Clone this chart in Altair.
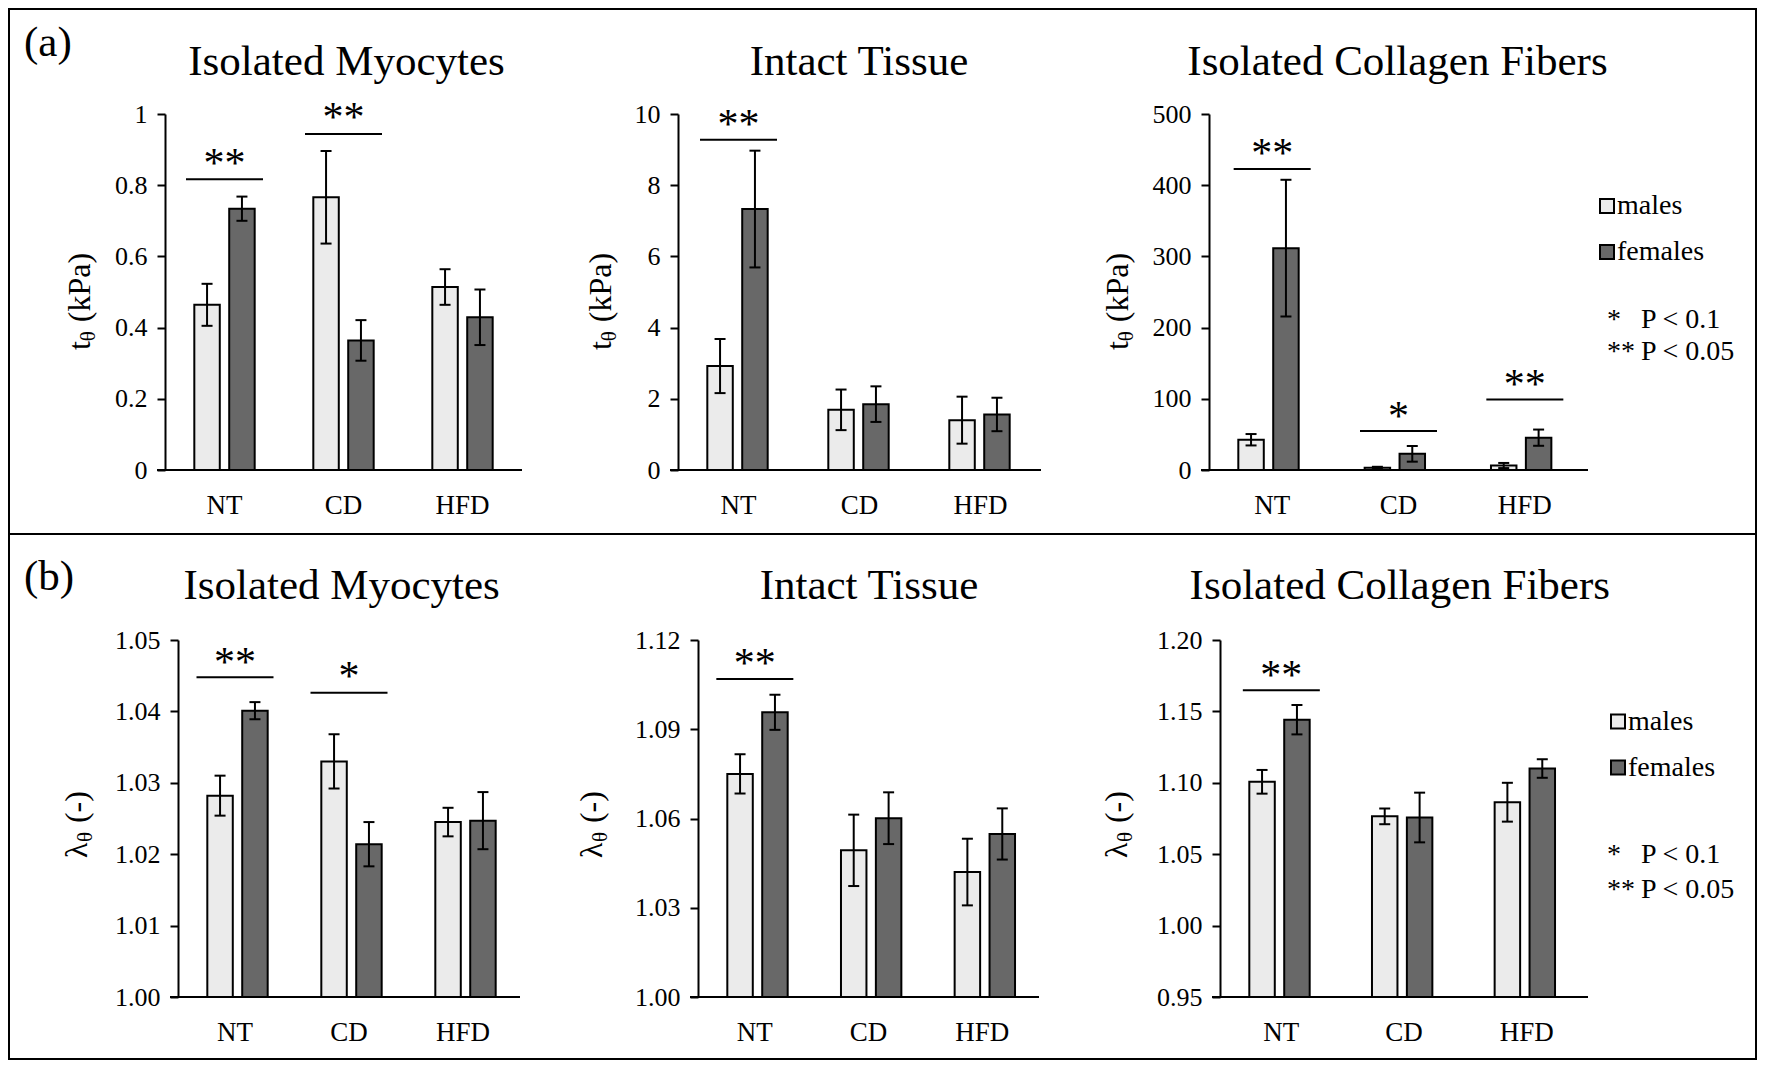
import altair as alt
import pandas as pd

FONT = "Liberation Serif"
MALE_FILL = "#ebebeb"
FEMALE_FILL = "#686868"

# ---------------- data ----------------
categories = ["NT", "CD", "HFD"]
sexes = ["males", "females"]

# (a) t_theta (kPa)
myo_t_males = [0.464, 0.766, 0.514]
myo_t_males_err = [0.059, 0.130, 0.050]
myo_t_females = [0.734, 0.364, 0.429]
myo_t_females_err = [0.034, 0.057, 0.078]

tis_t_males = [2.92, 1.69, 1.40]
tis_t_males_err = [0.76, 0.57, 0.66]
tis_t_females = [7.33, 1.85, 1.56]
tis_t_females_err = [1.64, 0.50, 0.47]

col_t_males = [42.5, 3.0, 6.3]
col_t_males_err = [8.0, 1.5, 3.6]
col_t_females = [311.6, 22.7, 45.4]
col_t_females_err = [96.0, 11.0, 11.4]

# (b) lambda_theta (-)
myo_l_males = [1.0282, 1.0330, 1.0245]
myo_l_males_err = [0.0028, 0.0038, 0.0020]
myo_l_females = [1.0401, 1.0214, 1.0247]
myo_l_females_err = [0.0012, 0.0031, 0.0040]

tis_l_males = [1.0750, 1.0493, 1.0420]
tis_l_males_err = [0.0066, 0.0120, 0.0112]
tis_l_females = [1.0957, 1.0601, 1.0548]
tis_l_females_err = [0.0059, 0.0087, 0.0086]

col_l_males = [1.1007, 1.0765, 1.0864]
col_l_males_err = [0.0083, 0.0055, 0.0136]
col_l_females = [1.1442, 1.0757, 1.1100]
col_l_females_err = [0.0103, 0.0174, 0.0065]

# significance markers: category, bar level, star level, text
myo_t_sig_cat = ["NT", "CD"]
myo_t_sig_line = [0.817, 0.944]
myo_t_sig_star = [0.879, 1.008]
myo_t_sig_txt = ["**", "**"]

tis_t_sig_cat = ["NT"]
tis_t_sig_line = [9.28]
tis_t_sig_star = [9.90]
tis_t_sig_txt = ["**"]

col_t_sig_cat = ["NT", "CD", "HFD"]
col_t_sig_line = [422.7, 54.6, 99.0]
col_t_sig_star = [454.0, 84.5, 129.5]
col_t_sig_txt = ["**", "*", "**"]

myo_l_sig_cat = ["NT", "CD"]
myo_l_sig_line = [1.0448, 1.0426]
myo_l_sig_star = [1.0478, 1.0458]
myo_l_sig_txt = ["**", "*"]

tis_l_sig_cat = ["NT"]
tis_l_sig_line = [1.1069]
tis_l_sig_star = [1.1142]
tis_l_sig_txt = ["**"]

col_l_sig_cat = ["NT"]
col_l_sig_line = [1.1648]
col_l_sig_star = [1.1794]
col_l_sig_txt = ["**"]

# axis ticks
myo_t_ticks = [0, 0.2, 0.4, 0.6, 0.8, 1.0]
tis_t_ticks = [0, 2, 4, 6, 8, 10]
col_t_ticks = [0, 100, 200, 300, 400, 500]
myo_l_ticks = [1.00, 1.01, 1.02, 1.03, 1.04, 1.05]
tis_l_ticks = [1.00, 1.03, 1.06, 1.09, 1.12]
col_l_ticks = [0.95, 1.00, 1.05, 1.10, 1.15, 1.20]

titles = ["Isolated Myocytes", "Intact Tissue", "Isolated Collagen Fibers"]

ONE = pd.DataFrame({"k": [0]})


def txt(s, x, y, size, align="left", baseline="middle"):
    return alt.Chart(ONE).mark_text(
        text=s, font=FONT, fontSize=size, color="black", align=align, baseline=baseline
    ).encode(x=alt.value(x), y=alt.value(y))


def rect(x, x2, y, y2, fill, stroke=None, sw=0):
    props = dict(fill=fill, opacity=1)
    if stroke:
        props.update(stroke=stroke, strokeWidth=sw)
    return alt.Chart(ONE).mark_rect(**props).encode(
        x=alt.value(x), x2=alt.value(x2), y=alt.value(y), y2=alt.value(y2))


def spacer(w):
    return alt.Chart(ONE).mark_rect(opacity=0).encode(
        x=alt.value(0), x2=alt.value(1), y=alt.value(0), y2=alt.value(1)
    ).properties(width=w, height=1)


def make_panel(P):
    W, H = P["W"], P["H"]
    ox, oy = P["origin"]
    rx = lambda v: v - ox
    ry = lambda v: v - oy
    ymin, ymax = P["domain"]

    df = pd.DataFrame({
        "cat": categories + categories,
        "sex": ["males"] * 3 + ["females"] * 3,
        "val": P["m"] + P["f"],
        "err": P["me"] + P["fe"],
    })
    df["lo"] = df["val"] - df["err"]
    df["hi"] = df["val"] + df["err"]
    sig = pd.DataFrame({"cat": P["sig"][0], "line": P["sig"][1],
                        "star": P["sig"][2], "txt": P["sig"][3]})

    X = alt.X("cat:N", sort=categories,
              scale=alt.Scale(domain=categories, paddingInner=0, paddingOuter=0),
              axis=alt.Axis(title=None, labelAngle=0, domain=False, ticks=False,
                            tickSize=0, labelPadding=22, labelFont=FONT,
                            labelFontSize=27, labelColor="black", grid=False))
    XO = alt.XOffset("sex:N", sort=sexes,
                     scale=alt.Scale(domain=sexes, paddingInner=0.27, paddingOuter=0.84))
    ys = alt.Scale(domain=[ymin, ymax], nice=False, zero=False)
    yax = alt.Axis(title=None, values=P["ticks"], format=P["fmt"], grid=False,
                   domain=True, domainColor="black", domainWidth=2,
                   ticks=True, tickColor="black", tickWidth=2, tickSize=8,
                   labelPadding=10, labelFont=FONT, labelFontSize=26,
                   labelColor="black")

    def Y(f):
        return alt.Y(f + ":Q", scale=ys, axis=yax, title=None)

    fill = alt.Fill("sex:N", scale=alt.Scale(domain=sexes, range=[MALE_FILL, FEMALE_FILL]),
                    legend=None)

    layers = []
    for (bx0, bx1, by0, by1) in P.get("borders", []):
        layers.append(rect(rx(bx0), rx(bx1), ry(by0), ry(by1), "black"))

    base = alt.Chart(df)
    layers.append(base.mark_bar(stroke="black", strokeWidth=2).encode(
        x=X, xOffset=XO, y=Y("val"), y2=alt.datum(ymin), fill=fill))
    layers.append(base.mark_rule(color="black", strokeWidth=2).encode(
        x=X, xOffset=XO, y=Y("lo"), y2="hi:Q"))
    layers.append(base.mark_tick(color="black", thickness=2, size=11,
                                 orient="horizontal", opacity=1).encode(
        x=X, xOffset=XO, y=Y("lo")))
    layers.append(base.mark_tick(color="black", thickness=2, size=11,
                                 orient="horizontal", opacity=1).encode(
        x=X, xOffset=XO, y=Y("hi")))

    sb = alt.Chart(sig)
    layers.append(sb.mark_tick(color="black", thickness=2, size=77,
                               orient="horizontal", opacity=1).encode(x=X, y=Y("line")))
    layers.append(sb.mark_text(font=FONT, fontSize=42, color="black", align="center",
                               baseline="middle", dy=7).encode(
        x=X, y=Y("star"), text="txt:N"))

    # horizontal axis line (extends slightly left of the vertical axis)
    layers.append(alt.Chart(ONE).mark_rule(color="black", strokeWidth=2).encode(
        x=alt.value(-8), x2=alt.value(W), y=alt.value(H)))

    # panel title
    tx, tyb = P["title_pos"]
    layers.append(txt(P["title"], rx(tx), ry(tyb), 43, align="center", baseline="alphabetic"))

    # panel letter
    if P.get("letter"):
        lx, ly = P["letter_pos"]
        layers.append(txt(P["letter"], rx(lx), ry(ly), 43, baseline="alphabetic"))

    # rotated y-axis title with subscript theta
    bxp, cyp = P["ytitle_pos"]
    if P["ykind"] == "t":
        parts = [("t", 32, 8.9, 0), ("\u03b8", 21, 10.9, 5), ("(kPa)", 32, 69.3, 0)]
    else:
        parts = [("\u03bb", 32, 16.0, 0), ("\u03b8", 21, 10.9, 5), ("(-)", 32, 32.0, 0)]
    gaps = [0, 0, 8.0]
    total = sum(p[2] for p in parts) + sum(gaps)
    pos = -total / 2
    for (s, fs, w, sdy), g in zip(parts, gaps):
        pos += g
        layers.append(alt.Chart(ONE).mark_text(
            text=s, font=FONT, fontSize=fs, color="black", align="left",
            baseline="alphabetic", angle=270, dx=pos, dy=sdy if sdy else 0.001
        ).encode(x=alt.value(rx(bxp)), y=alt.value(ry(cyp))))
        pos += w

    # legend / significance key
    if P.get("legend"):
        sx0, sy_m, sy_f, tx0, star_x, p_x, y1, y2 = P["legend"]
        layers.append(rect(rx(sx0), rx(sx0 + 14), ry(sy_m - 7), ry(sy_m + 7),
                           MALE_FILL, "black", 2))
        layers.append(rect(rx(sx0), rx(sx0 + 14), ry(sy_f - 7), ry(sy_f + 7),
                           FEMALE_FILL, "black", 2))
        layers.append(txt("males", rx(tx0), ry(sy_m), 28))
        layers.append(txt("females", rx(tx0), ry(sy_f), 28))
        layers.append(txt("*", rx(star_x), ry(y1), 28))
        layers.append(txt("P < 0.1", rx(p_x), ry(y1), 28))
        layers.append(txt("**", rx(star_x), ry(y2), 28))
        layers.append(txt("P < 0.05", rx(p_x), ry(y2), 28))

    return alt.layer(*layers).properties(width=W, height=H)


# page geometry of the two framed boxes
L, R, T, MID, B = 8, 1757, 8, 534, 1060

panels = [
    dict(W=357, H=356, origin=(165, 114), domain=(0, 1), ticks=myo_t_ticks, fmt="~g",
         m=myo_t_males, me=myo_t_males_err, f=myo_t_females, fe=myo_t_females_err,
         sig=(myo_t_sig_cat, myo_t_sig_line, myo_t_sig_star, myo_t_sig_txt),
         title=titles[0], title_pos=(346.5, 74.5), letter="(a)", letter_pos=(24, 56),
         ykind="t", ytitle_pos=(90.4, 301.5),
         borders=[(L, R, T, T + 2), (L, L + 2, T, MID), (R - 2, R, T, MID),
                  (L, R, MID - 1, MID)]),
    dict(W=363, H=356, origin=(678, 114), domain=(0, 10), ticks=tis_t_ticks, fmt="d",
         m=tis_t_males, me=tis_t_males_err, f=tis_t_females, fe=tis_t_females_err,
         sig=(tis_t_sig_cat, tis_t_sig_line, tis_t_sig_star, tis_t_sig_txt),
         title=titles[1], title_pos=(859, 74.5),
         ykind="t", ytitle_pos=(611.2, 301.5)),
    dict(W=379, H=356, origin=(1209, 114), domain=(0, 500), ticks=col_t_ticks, fmt="d",
         m=col_t_males, me=col_t_males_err, f=col_t_females, fe=col_t_females_err,
         sig=(col_t_sig_cat, col_t_sig_line, col_t_sig_star, col_t_sig_txt),
         title=titles[2], title_pos=(1397.5, 74.5),
         ykind="t", ytitle_pos=(1128.4, 301.5),
         legend=(1600, 206, 252, 1617, 1607, 1641, 320, 352)),
    dict(W=342, H=357, origin=(178, 640), domain=(1.00, 1.05), ticks=myo_l_ticks, fmt=".2f",
         m=myo_l_males, me=myo_l_males_err, f=myo_l_females, fe=myo_l_females_err,
         sig=(myo_l_sig_cat, myo_l_sig_line, myo_l_sig_star, myo_l_sig_txt),
         title=titles[0], title_pos=(341.6, 599.3), letter="(b)", letter_pos=(24, 590),
         ykind="l", ytitle_pos=(86.9, 824.5),
         borders=[(L, R, MID, MID + 1), (L, L + 2, MID, B), (R - 2, R, MID, B),
                  (L, R, B - 2, B)]),
    dict(W=341, H=357, origin=(698, 640), domain=(1.00, 1.12), ticks=tis_l_ticks, fmt=".2f",
         m=tis_l_males, me=tis_l_males_err, f=tis_l_females, fe=tis_l_females_err,
         sig=(tis_l_sig_cat, tis_l_sig_line, tis_l_sig_star, tis_l_sig_txt),
         title=titles[1], title_pos=(869, 599.3),
         ykind="l", ytitle_pos=(602.4, 824.5)),
    dict(W=368, H=357, origin=(1220, 640), domain=(0.95, 1.20), ticks=col_l_ticks, fmt=".2f",
         m=col_l_males, me=col_l_males_err, f=col_l_females, fe=col_l_females_err,
         sig=(col_l_sig_cat, col_l_sig_line, col_l_sig_star, col_l_sig_txt),
         title=titles[2], title_pos=(1399.8, 599.3),
         ykind="l", ytitle_pos=(1127.4, 824.5),
         legend=(1611, 721.5, 767.5, 1628, 1607, 1641, 855, 889.6)),
]

# each row: flush flow of spacers + panels, so each plot area sits at its page position
rows = []
for row in (panels[:3], panels[3:]):
    cells = []
    prev_end = L
    for P in row:
        cells.append(spacer(P["origin"][0] - prev_end))
        cells.append(make_panel(P))
        prev_end = P["origin"][0] + P["W"]
    rows.append(alt.hconcat(*cells, spacing=0, bounds="flush"))

chart = alt.vconcat(*rows, spacing=0, bounds="full").properties(
    padding=0, background="white"
).configure_view(strokeWidth=0).configure_axis(labelFont=FONT).configure_text(font=FONT)

chart.save("out.html", embed_options={"renderer": "svg", "actions": False})
